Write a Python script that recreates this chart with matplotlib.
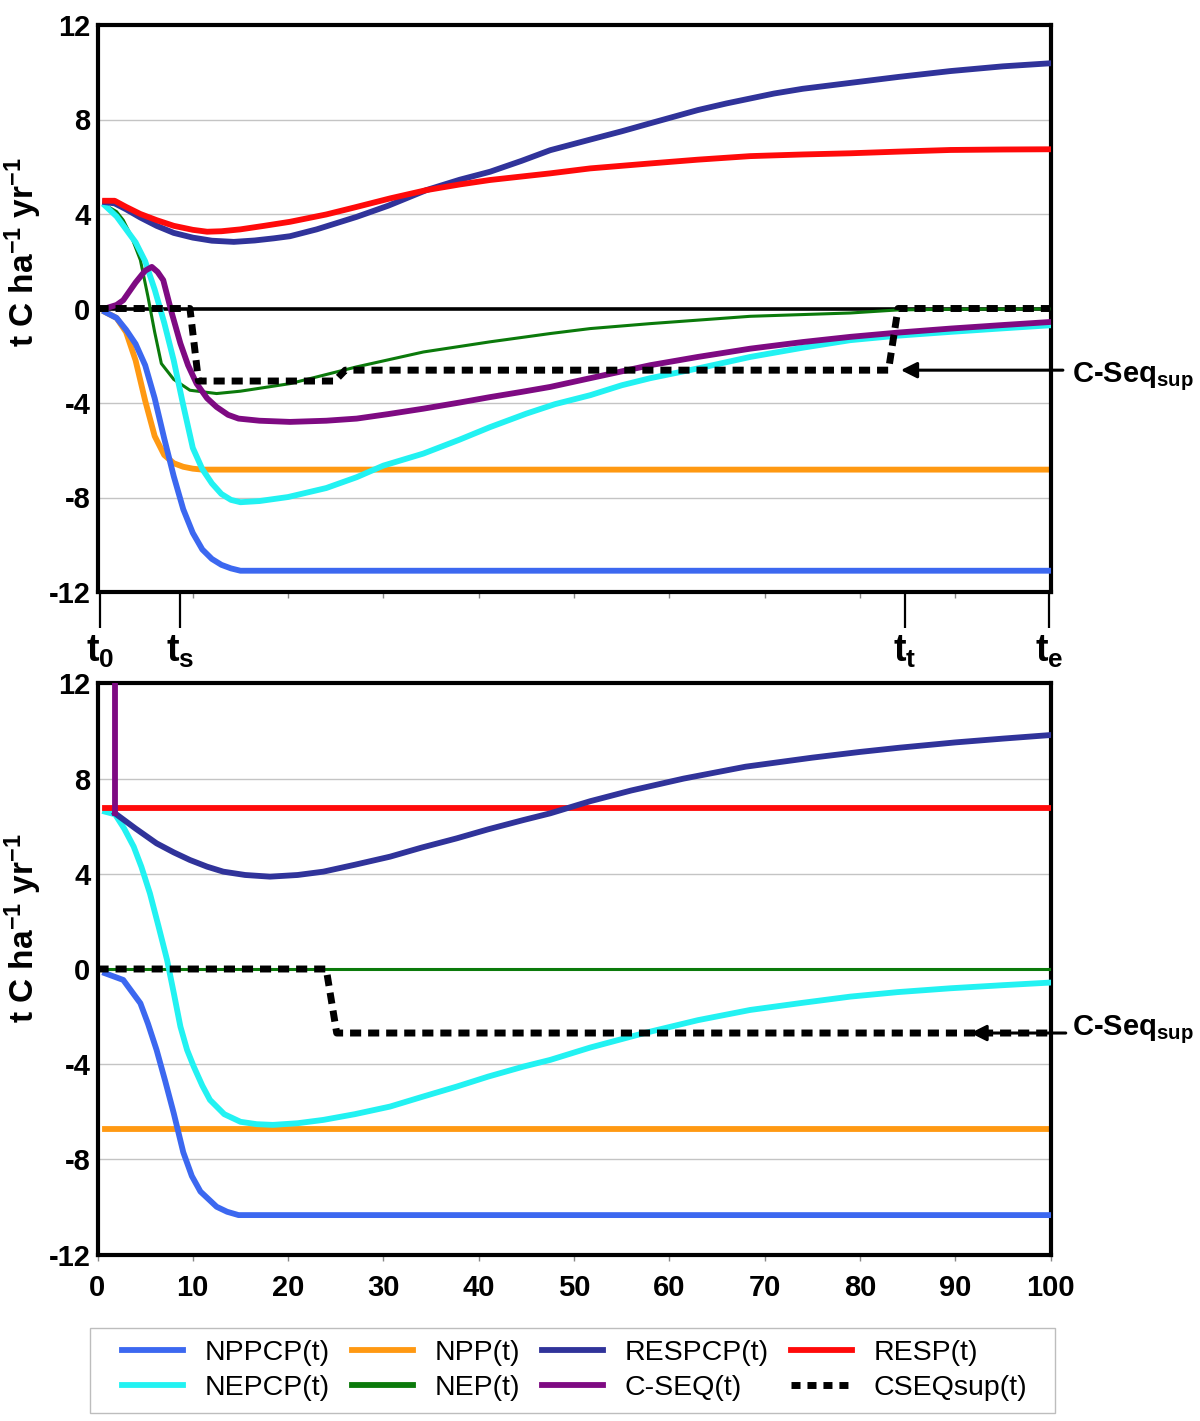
import matplotlib
matplotlib.use('Agg')
import matplotlib.pyplot as plt
from matplotlib import font_manager as fm
from matplotlib.lines import Line2D
from matplotlib.patches import Rectangle

# ---------------- data ----------------
# Top panel
top_nppcp_t = [0.8, 2, 3, 4, 5, 6, 7, 8, 9, 10, 11, 12, 13, 14, 15, 100]
top_nppcp_v = [-0.15, -0.4, -0.9, -1.5, -2.4, -3.8, -5.5, -7.1, -8.5, -9.5, -10.2, -10.6, -10.85, -11.0, -11.1, -11.1]

top_npp_t = [0.8, 2, 3, 4, 5, 6, 7, 8, 9, 10, 11, 12, 100]
top_npp_v = [-0.15, -0.4, -1.0, -2.2, -3.9, -5.4, -6.2, -6.55, -6.7, -6.78, -6.82, -6.82, -6.82]

top_nepcp_t = [0.8, 2, 3, 4, 5, 6, 7, 8, 9, 10, 11, 12, 13, 14, 15, 17, 20, 24, 27.2, 30,
               34.2, 38, 41.2, 45, 48, 51.7, 55, 58, 63.2, 68.5, 74, 79, 84, 89.5, 95, 100]
top_nepcp_v = [4.35, 3.9, 3.35, 2.8, 2.0, 0.8, -0.6, -2.2, -4.1, -5.9, -6.8, -7.4, -7.85, -8.1, -8.2, -8.15, -7.98, -7.6, -7.14, -6.65,
               -6.14, -5.55, -5.02, -4.45, -4.05, -3.67, -3.25, -2.95, -2.52, -2.05, -1.66, -1.34, -1.15, -0.99, -0.84, -0.71]

top_nep_t = [0.8, 2, 2.7, 3.5, 4.5, 5.3, 6, 6.7, 8, 9.7, 12.5, 15, 20.2, 27.2, 34.2, 41.2, 47.5, 51.7, 58, 68.5, 79, 84, 90, 100]
top_nep_v = [4.38, 4.1, 3.74, 3.1, 2.05, 0.49, -1.0, -2.33, -3.0, -3.46, -3.6, -3.5, -3.18, -2.47, -1.84, -1.41, -1.06, -0.85, -0.64, -0.33, -0.19, -0.06, -0.03, -0.02]

top_cseq_t = [0.8, 2, 2.7, 4, 5, 5.7, 6.3, 6.9, 7.8, 8.7, 9.5, 10.4, 11.5, 12.5, 13.7, 14.8, 17, 20.2, 24, 27.2, 30.5,
              34.2, 38, 41.2, 44.5, 47.5, 51.7, 58, 63, 68.5, 74, 79, 84, 89.5, 95, 100]
top_cseq_v = [0.0, 0.15, 0.35, 1.1, 1.6, 1.76, 1.55, 1.2, -0.2, -1.48, -2.4, -3.18, -3.8, -4.17, -4.5, -4.66, -4.75, -4.8, -4.75, -4.66, -4.47,
              -4.24, -3.98, -3.75, -3.53, -3.32, -2.95, -2.4, -2.05, -1.7, -1.42, -1.2, -1.02, -0.85, -0.7, -0.57]

top_resp_t = [0.8, 1.8, 3, 4.5, 6.2, 8, 10, 11.5, 13, 15, 17.5, 20.2, 24, 27, 30.7, 34.5, 38, 41.2, 47.5, 51.7,
              58, 63, 68.5, 74, 79, 84, 89.5, 95, 100]
top_resp_v = [4.56, 4.56, 4.3, 4.0, 3.74, 3.5, 3.33, 3.25, 3.27, 3.35, 3.5, 3.67, 3.98, 4.28, 4.66, 5.01, 5.25, 5.44, 5.72, 5.93,
              6.14, 6.3, 6.45, 6.52, 6.57, 6.64, 6.71, 6.73, 6.74]

top_respcp_t = [0.8, 1.8, 3, 4.5, 6.2, 8, 10, 12, 14.3, 16.5, 18.5, 20.2, 23, 27.2, 30.5, 34.5, 38, 41.2, 44.5, 47.5,
                51.7, 55, 58, 63, 66, 71, 74, 79, 84, 89.5, 95, 100]
top_respcp_v = [4.5, 4.45, 4.2, 3.85, 3.5, 3.2, 3.0, 2.87, 2.82, 2.88, 2.97, 3.06, 3.35, 3.88, 4.35, 5.01, 5.45, 5.79, 6.25, 6.7,
                7.15, 7.5, 7.84, 8.4, 8.68, 9.1, 9.3, 9.55, 9.8, 10.05, 10.25, 10.38]

top_cseqsup_t = [0, 9.7, 10.6, 24.9, 26.0, 83.0, 84.0, 100]
top_cseqsup_v = [0, 0, -3.07, -3.07, -2.61, -2.61, 0, 0]

# Bottom panel
bot_nppcp_t = [0.8, 2.7, 4.5, 5.3, 6.2, 7.1, 8.0, 9.0, 9.9, 10.8, 12.5, 13.6, 14.8, 100]
bot_nppcp_v = [-0.18, -0.46, -1.44, -2.3, -3.4, -4.7, -6.06, -7.7, -8.7, -9.35, -9.99, -10.2, -10.34, -10.34]

bot_npp_t = [0.8, 100]
bot_npp_v = [-6.72, -6.72]

bot_nepcp_t = [0.8, 1.84, 2.8, 3.8, 4.6, 5.5, 6.4, 7.3, 8.0, 8.7, 9.4, 10.1, 11.0, 11.8, 13.3, 15.0, 16.7, 18.4, 21, 23.7,
               27, 30.7, 34, 37.7, 41, 44.7, 47.5, 51.7, 57.3, 63, 68.5, 74, 79, 84, 89.5, 95, 100]
bot_nepcp_v = [6.61, 6.5, 5.9, 5.14, 4.3, 3.18, 1.8, 0.38, -1.0, -2.42, -3.4, -4.1, -4.9, -5.5, -6.1, -6.42, -6.52, -6.55, -6.48, -6.34,
               -6.1, -5.78, -5.38, -4.94, -4.52, -4.1, -3.82, -3.3, -2.7, -2.15, -1.72, -1.42, -1.16, -0.97, -0.81, -0.68, -0.57]

bot_nep_t = [0.8, 100]
bot_nep_v = [0.0, 0.0]

bot_respcp_t = [1.84, 4, 6.2, 8, 9.7, 11.5, 13.2, 15.5, 18.1, 21, 23.7, 27, 30.7, 34, 37.7, 41, 44.7, 47.5, 51.7, 56,
                61.5, 68, 75, 80, 84.2, 90, 95, 100]
bot_respcp_v = [6.54, 5.9, 5.28, 4.9, 4.58, 4.3, 4.09, 3.95, 3.88, 3.95, 4.09, 4.38, 4.72, 5.1, 5.49, 5.87, 6.26, 6.54, 7.05, 7.5,
                8.0, 8.5, 8.88, 9.12, 9.3, 9.52, 9.68, 9.83]

bot_cseq_t = [1.84, 1.84]
bot_cseq_v = [14.0, 6.54]

bot_resp_t = [0.8, 100]
bot_resp_v = [6.77, 6.77]

bot_cseqsup_t = [0, 24.0, 25.1, 100]
bot_cseqsup_v = [0, 0, -2.69, -2.69]

# axis ticks / labels
y_ticks = [-12, -8, -4, 0, 4, 8, 12]
top_minor_ticks = [10, 20, 30, 40, 50, 60, 70, 80, 90]
top_marks = [0.3, 8.7, 84.7, 99.8]
top_mark_labels = [r'$t_0$', r'$t_s$', r'$t_t$', r'$t_e$']
bot_x_ticks = [0, 10, 20, 30, 40, 50, 60, 70, 80, 90, 100]

legend_labels = ['NPPCP(t)', 'NEPCP(t)', 'NPP(t)', 'NEP(t)', 'RESPCP(t)', 'C-SEQ(t)', 'RESP(t)', 'CSEQsup(t)']

# ---------------- style ----------------
C_NPPCP = '#3C68F0'
C_NEPCP = '#22F2F2'
C_NPP = '#FF9912'
C_NEP = '#0B7A0B'
C_RESPCP = '#30339A'
C_CSEQ = '#7E0A82'
C_RESP = '#FF0A0A'
C_SUP = '#000000'

names = {f.name for f in fm.fontManager.ttflist}
HAS_NARROW = 'Liberation Sans Narrow' in names
NARROW = ['Liberation Sans Narrow', 'Liberation Sans', 'DejaVu Sans'] if HAS_NARROW else ['Liberation Sans', 'DejaVu Sans']

plt.rcParams['font.family'] = ['Liberation Sans', 'DejaVu Sans']
plt.rcParams['mathtext.fontset'] = 'custom'
plt.rcParams['mathtext.rm'] = 'Liberation Sans:bold'
plt.rcParams['mathtext.it'] = 'Liberation Sans:bold'
plt.rcParams['mathtext.bf'] = 'Liberation Sans:bold'

LW = 4.2
DASH = (0, (1.6, 1.0))

fig = plt.figure(figsize=(12, 14.21), dpi=100)
ax1 = fig.add_axes([97.5 / 1200, 1 - 592 / 1421, 953 / 1200, 567 / 1421])
ax2 = fig.add_axes([97.5 / 1200, 1 - 1254.6 / 1421, 953 / 1200, 571.2 / 1421])


def style_axes(ax):
    ax.set_xlim(0, 100)
    ax.set_ylim(-12, 12)
    ax.set_yticks(y_ticks)
    ax.set_yticklabels([str(v) for v in y_ticks])
    for s in ax.spines.values():
        s.set_linewidth(3.0)
        s.set_color('black')
    for g in [-8, -4, 4, 8]:
        ax.axhline(g, color='#c4c4c4', lw=1.0, zorder=0)
    ax.tick_params(axis='y', length=0, pad=5, labelsize=21)
    for lab in ax.get_yticklabels():
        lab.set_fontweight('bold')
    ax.set_ylabel(r't C ha$^{-1}$ yr$^{-1}$', fontsize=24, fontweight='bold')


# ---- top panel ----
style_axes(ax1)
ax1.yaxis.set_label_coords(-0.056, 0.60)
ax1.axhline(0, color='black', lw=2.6, zorder=1)
ax1.plot(top_npp_t, top_npp_v, color=C_NPP, lw=LW, zorder=2)
ax1.plot(top_nppcp_t, top_nppcp_v, color=C_NPPCP, lw=LW, zorder=3)
ax1.plot(top_nep_t, top_nep_v, color=C_NEP, lw=2.2, zorder=4)
ax1.plot(top_nepcp_t, top_nepcp_v, color=C_NEPCP, lw=LW, zorder=4)
ax1.plot(top_respcp_t, top_respcp_v, color=C_RESPCP, lw=LW, zorder=5)
ax1.plot(top_resp_t, top_resp_v, color=C_RESP, lw=LW, zorder=6)
ax1.plot(top_cseq_t, top_cseq_v, color=C_CSEQ, lw=LW, zorder=6)
ax1.plot(top_cseqsup_t, top_cseqsup_v, color=C_SUP, lw=5, linestyle=DASH, zorder=7)

ax1.set_xticks(top_marks)
ax1.set_xticklabels(top_mark_labels)
ax1.tick_params(axis='x', which='major', length=26, width=1.6, direction='out', pad=4, labelsize=27)
ax1.set_xticks(top_minor_ticks, minor=True)
ax1.tick_params(axis='x', which='minor', length=4, width=1.0, color='#888888', direction='out')

ax1.annotate('', xy=(84.3, -2.61), xytext=(101.3, -2.61), annotation_clip=False,
             arrowprops=dict(arrowstyle='-|>', color='black', lw=2.2, mutation_scale=24, shrinkA=0, shrinkB=0))
ax1.text(102.3, -2.87, r'C-Seq$_{sup}$', fontsize=21, fontweight='bold', ha='left', va='center', clip_on=False)

# ---- bottom panel ----
style_axes(ax2)
ax2.yaxis.set_label_coords(-0.056, 0.572)
ax2.plot(bot_npp_t, bot_npp_v, color=C_NPP, lw=LW, zorder=2)
ax2.plot(bot_nppcp_t, bot_nppcp_v, color=C_NPPCP, lw=LW, zorder=3)
ax2.plot(bot_nep_t, bot_nep_v, color=C_NEP, lw=2.2, zorder=4)
ax2.plot(bot_nepcp_t, bot_nepcp_v, color=C_NEPCP, lw=LW, zorder=4)
ax2.plot(bot_resp_t, bot_resp_v, color=C_RESP, lw=LW, zorder=5)
ax2.plot(bot_respcp_t, bot_respcp_v, color=C_RESPCP, lw=LW, zorder=6)
ax2.plot(bot_cseq_t, bot_cseq_v, color=C_CSEQ, lw=LW, zorder=6)
ax2.plot(bot_cseqsup_t, bot_cseqsup_v, color=C_SUP, lw=5, linestyle=DASH, zorder=7)

ax2.set_xticks(bot_x_ticks)
ax2.set_xticklabels([str(v) for v in bot_x_ticks])
ax2.tick_params(axis='x', length=4, width=1.0, color='#888888', direction='out', pad=10)
for lab in ax2.get_xticklabels():
    lab.set_fontweight('bold')
    lab.set_family(NARROW)
    lab.set_fontsize(24 if HAS_NARROW else 21)

ax2.annotate('', xy=(91.6, -2.69), xytext=(101.6, -2.69), annotation_clip=False,
             arrowprops=dict(arrowstyle='-|>', color='black', lw=2.2, mutation_scale=24, shrinkA=0, shrinkB=0))
ax2.text(102.3, -2.56, r'C-Seq$_{sup}$', fontsize=21, fontweight='bold', ha='left', va='center', clip_on=False)

# ---- legend ----
handles = [
    Line2D([], [], color=C_NPPCP, lw=LW),
    Line2D([], [], color=C_NEPCP, lw=LW),
    Line2D([], [], color=C_NPP, lw=LW),
    Line2D([], [], color=C_NEP, lw=LW),
    Line2D([], [], color=C_RESPCP, lw=LW),
    Line2D([], [], color=C_CSEQ, lw=LW),
    Line2D([], [], color=C_RESP, lw=LW),
    Line2D([], [], color=C_SUP, lw=5, linestyle=(0, (1.3, 1.0))),
]
fig.patches.append(Rectangle((90 / 1200, 1 - 1413 / 1421), 965 / 1200, 85 / 1421,
                             transform=fig.transFigure, fill=False, edgecolor='#bdbdbd', lw=1.0))
leg = fig.legend(handles, legend_labels, loc='center left',
                 bbox_to_anchor=(122 / 1200, 1 - 1413 / 1421, 905 / 1200, 85 / 1421),
                 mode='expand', ncol=4, frameon=False, borderaxespad=0, borderpad=0,
                 handlelength=2.15, handletextpad=0.75, labelspacing=0.32,
                 prop=dict(family=NARROW, size=22 if HAS_NARROW else 20.5))

fig.savefig('out.png', dpi=100)
